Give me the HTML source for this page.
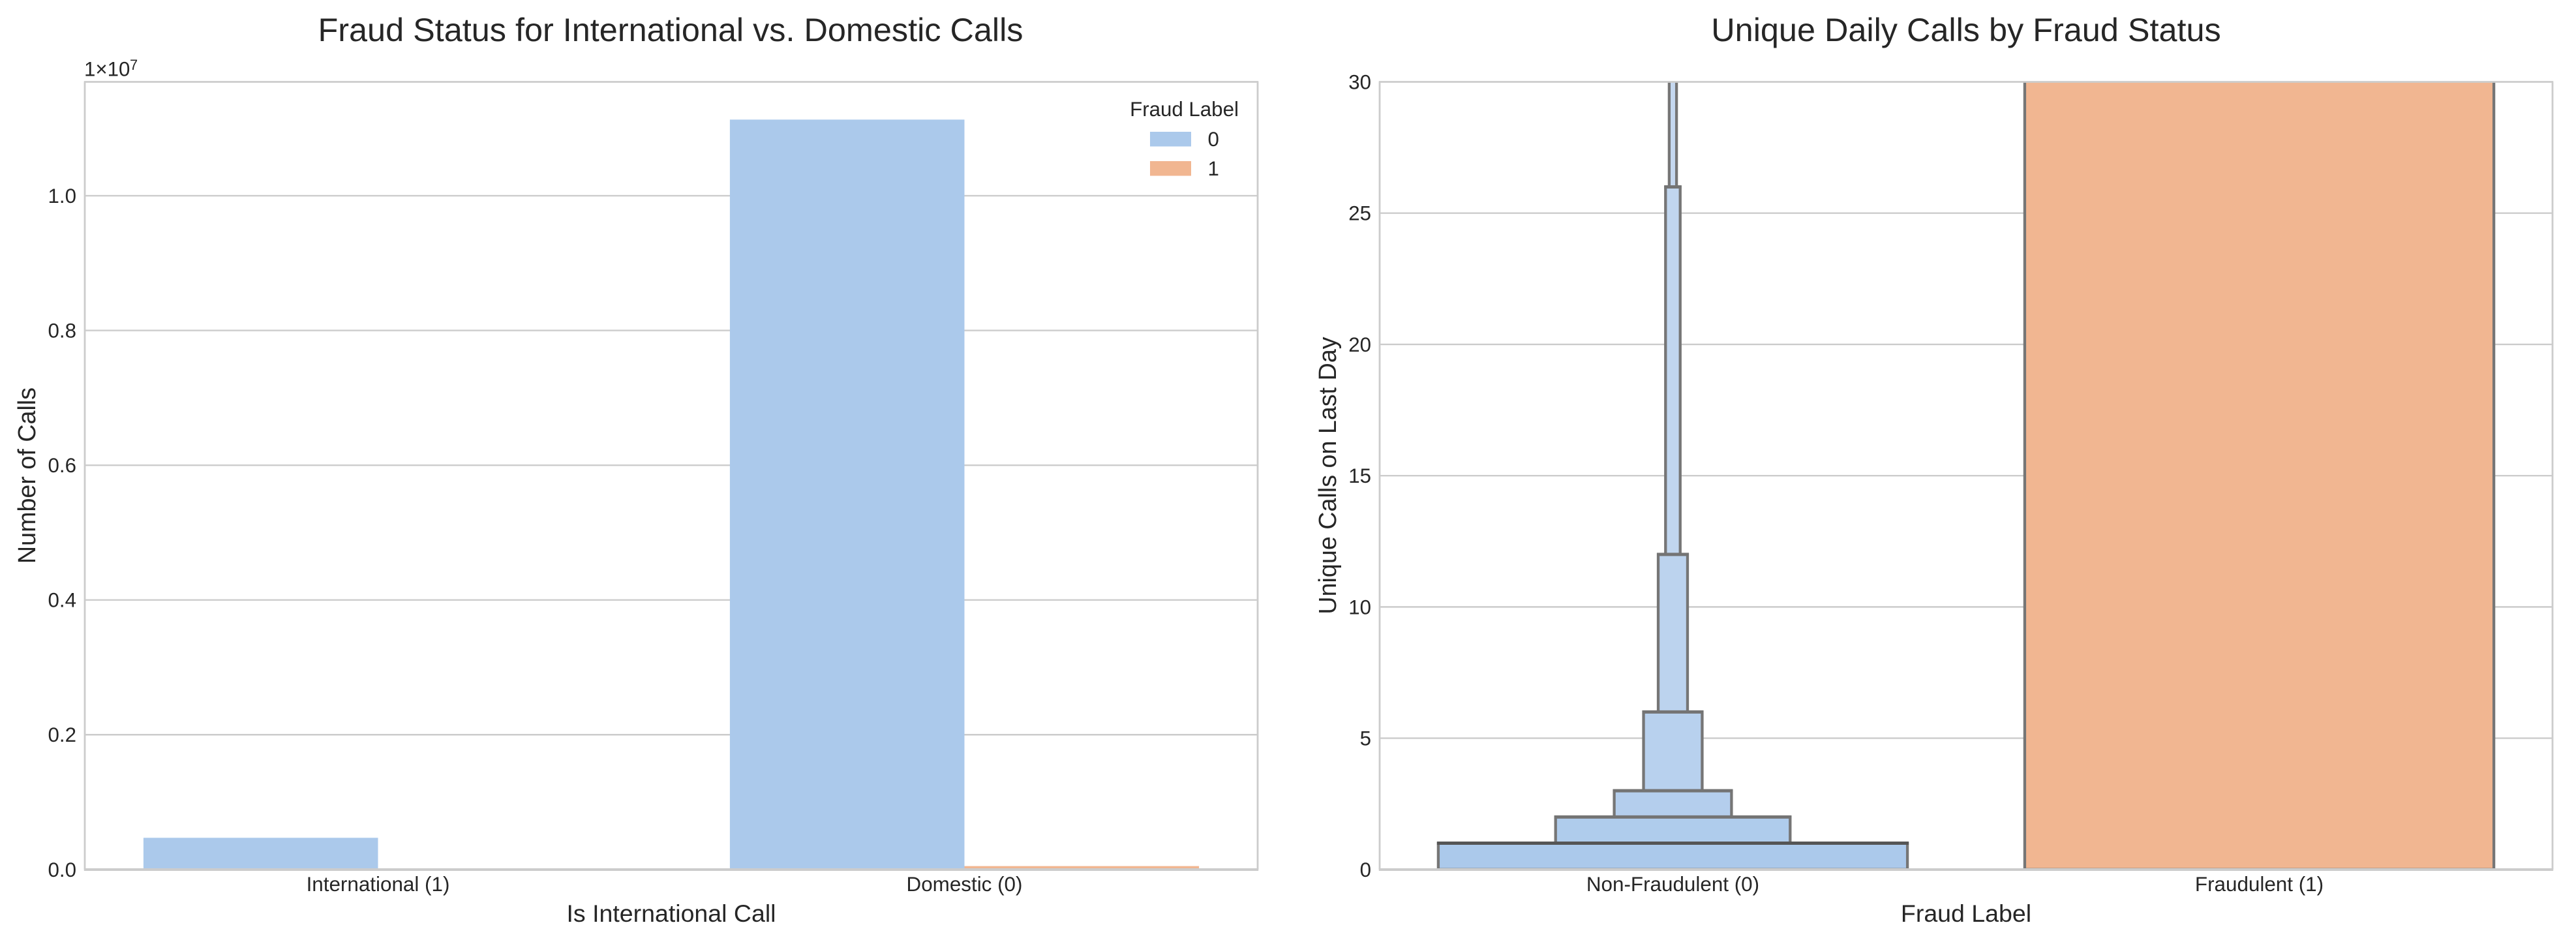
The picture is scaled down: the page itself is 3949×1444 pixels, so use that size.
<!DOCTYPE html>
<html lang="en">
<head>
<meta charset="utf-8">
<title>Fraud Status Charts</title>
<style>
  html, body { margin: 0; padding: 0; background: #ffffff; }
  body { width: 3949px; height: 1444px; overflow: hidden; }
  svg { display: block; }
  text { font-family: "Liberation Sans", sans-serif; fill: #262626; }
</style>
</head>
<body>
<svg id="figure" xmlns="http://www.w3.org/2000/svg" width="3949" height="1444" viewBox="0 0 3949 1444">
  <defs>
    <clipPath id="clip-left"><rect x="130" y="125.5" width="1798" height="1207.3"></rect></clipPath>
    <clipPath id="clip-right"><rect x="2115" y="125.5" width="1798" height="1207.3"></rect></clipPath>
  </defs>
  <g id="left-chart"></g>
  <g id="right-chart"></g>
</svg>
<script>
// Left chart data
const callCategories = ['International (1)', 'Domestic (0)'];
const callsNonFraud = [470000, 11130000];
const callsFraud = [0, 50000];
const callTickValues = [0, 2000000, 4000000, 6000000, 8000000, 10000000];
const callTickLabels = ['0.0', '0.2', '0.4', '0.6', '0.8', '1.0'];
const callAxisMax = 11690000;
const legendEntries = ['0', '1'];

// Right chart data
const fraudCategories = ['Non-Fraudulent (0)', 'Fraudulent (1)'];
const nonFraudLetterValues = [0, 1, 2, 3, 6, 12, 26, 60];
const fraudLetterValues = [0, 60];
const uniqueTickValues = [0, 5, 10, 15, 20, 25, 30];
const uniqueTickLabels = ['0', '5', '10', '15', '20', '25', '30'];
const uniqueAxisMax = 30;

const NS = 'http://www.w3.org/2000/svg';
const PLOT_TOP = 125.5;
const PLOT_BOTTOM = 1332.8;
const PLOT_WIDTH = 1798;
const LEFT_X0 = 130;
const RIGHT_X0 = 2115;
const BLUE = '#abc9eb';
const ORANGE = '#f1b691';
const EDGE = '#767676';
const GRID = '#cccccc';

function mk(tag, attrs, parent, content) {
  const el = document.createElementNS(NS, tag);
  for (const k in attrs) { el.setAttribute(k, attrs[k]); }
  if (content !== undefined) { el.textContent = content; }
  parent.appendChild(el);
  return el;
}

function catX(x0, count, i) {
  const unit = PLOT_WIDTH / count;
  return x0 + unit * (i + 0.5);
}
function callY(v) { return PLOT_BOTTOM - (v / callAxisMax) * (PLOT_BOTTOM - PLOT_TOP); }
function uniqueY(v) { return PLOT_BOTTOM - (v / uniqueAxisMax) * (PLOT_BOTTOM - PLOT_TOP); }
function mixLevel(level, total) {
  const t = total > 1 ? level / (total - 1) : 0;
  const a = [171, 201, 235], b = [197, 216, 240];
  const c = a.map((v, j) => Math.round(v + (b[j] - v) * t));
  return 'rgb(' + c.join(',') + ')';
}

function drawSpines(g, x0) {
  const x1 = x0 + PLOT_WIDTH;
  let s = mk('line', {x1: x0 - 1.2, y1: PLOT_TOP, x2: x1 + 1.2, y2: PLOT_TOP, stroke: GRID, 'stroke-width': 2.8}, g);
  
  
  s = mk('line', {x1: x1, y1: PLOT_TOP, x2: x1, y2: PLOT_BOTTOM, stroke: GRID, 'stroke-width': 2.8}, g);
  
  
  s = mk('line', {x1: x0, y1: PLOT_TOP, x2: x0, y2: PLOT_BOTTOM, stroke: GRID, 'stroke-width': 2.8}, g);
  
  
  s = mk('line', {x1: x0 - 1.2, y1: PLOT_BOTTOM + 0.2, x2: x1 + 1.2, y2: PLOT_BOTTOM + 0.2, stroke: GRID, 'stroke-width': 4}, g);
  
  
}

function drawGrid(g, x0, values, labels, yFn) {
  values.forEach((v, i) => {
    const y = yFn(v);
    if (v !== 0 && y > PLOT_TOP + 2) {
      const ln = mk('line', {x1: x0, y1: y, x2: x0 + PLOT_WIDTH, y2: y, stroke: GRID, 'stroke-width': 2.4}, g);
      
      
    }
    const t = mk('text', {x: x0 - 13, y: y + 11, 'text-anchor': 'end', 'font-size': 31.25}, g, labels[i]);
    
    
  });
}

function drawXLabels(g, x0, cats) {
  cats.forEach((c, i) => {
    const t = mk('text', {x: catX(x0, cats.length, i), y: 1366, 'text-anchor': 'middle', 'font-size': 31.4}, g, c);
    
    
  });
}

/* ---------- Left chart ---------- */
(function () {
  const g = document.getElementById('left-chart');
  drawGrid(g, LEFT_X0, callTickValues, callTickLabels, callY);

  const marks = mk('g', {'clip-path': 'url(#clip-left)'}, g);
  
  
  const unit = PLOT_WIDTH / callCategories.length;
  const barW = unit * 0.4;
  callCategories.forEach((c, i) => {
    const cx = catX(LEFT_X0, callCategories.length, i);
    const h0 = PLOT_BOTTOM - callY(callsNonFraud[i]);
    const b0 = mk('rect', {x: cx - barW, y: callY(callsNonFraud[i]), width: barW, height: h0, fill: BLUE}, marks);
    
    
    const h1 = PLOT_BOTTOM - callY(callsFraud[i]);
    const b1 = mk('rect', {x: cx, y: callY(callsFraud[i]), width: barW, height: h1, fill: ORANGE}, marks);
    
    
  });

  drawSpines(g, LEFT_X0);
  drawXLabels(g, LEFT_X0, callCategories);

  const title = mk('text', {x: 1028, y: 63, 'text-anchor': 'middle', 'font-size': 50.4}, g, 'Fraud Status for International vs. Domestic Calls');
  
  

  const xt = mk('text', {x: 1029, y: 1413, 'text-anchor': 'middle', 'font-size': 37.5}, g, 'Is International Call');
  
  

  const yt = mk('text', {x: 0, y: 0, 'text-anchor': 'middle', 'font-size': 37.7, transform: 'translate(54 729) rotate(-90)'}, g, 'Number of Calls');
  
  

  const off = mk('text', {x: 129, y: 116.5, 'font-size': 31.25}, g, '1×10');
  
  
  const sup = mk('text', {x: 199, y: 107, 'font-size': 21.9}, g, '7');
  
  

  const legend = mk('g', {}, g);
  
  
  const lt = mk('text', {x: 1815.5, y: 178, 'text-anchor': 'middle', 'font-size': 31.25}, legend, 'Fraud Label');
  
  
  const colors = [BLUE, ORANGE];
  legendEntries.forEach((e, i) => {
    const top = 202 + i * 45;
    const sw = mk('rect', {x: 1763, y: top, width: 63, height: 22.5, fill: colors[i]}, legend);
    
    
    const tx = mk('text', {x: 1851.5, y: top + 22, 'font-size': 31.25}, legend, e);
    
    
  });
})();

/* ---------- Right chart ---------- */
(function () {
  const g = document.getElementById('right-chart');
  drawGrid(g, RIGHT_X0, uniqueTickValues, uniqueTickLabels, uniqueY);

  const marks = mk('g', {'clip-path': 'url(#clip-right)'}, g);
  
  
  const unit = PLOT_WIDTH / fraudCategories.length;

  function drawBoxen(values, catIndex, flatColor) {
    const cx = catX(RIGHT_X0, fraudCategories.length, catIndex);
    const levels = values.length - 1;
    for (let i = levels - 1; i >= 0; i--) {
      const w = unit * 0.8 / Math.pow(2, i);
      const top = uniqueY(values[i + 1]);
      const bot = uniqueY(values[i]);
      const box = mk('rect', {
        x: cx - w / 2, y: top, width: w, height: bot - top,
        fill: flatColor || mixLevel(i, levels),
        stroke: EDGE, 'stroke-width': 4.3
      }, marks);
      
      
      if (i < levels - 1) {
        const cap = mk('line', {
          x1: cx - w / 2 - 2, y1: top, x2: cx + w / 2 + 2, y2: top,
          stroke: i === 0 ? '#555555' : '#747474', 'stroke-width': 5
        }, marks);
        
        
      }
    }
  }
  drawBoxen(nonFraudLetterValues, 0, null);
  drawBoxen(fraudLetterValues, 1, ORANGE);

  drawSpines(g, RIGHT_X0);
  drawXLabels(g, RIGHT_X0, fraudCategories);

  const title = mk('text', {x: 3014, y: 63, 'text-anchor': 'middle', 'font-size': 50.4}, g, 'Unique Daily Calls by Fraud Status');
  
  

  const xt = mk('text', {x: 3014, y: 1413, 'text-anchor': 'middle', 'font-size': 37.5}, g, 'Fraud Label');
  
  

  const yt = mk('text', {x: 0, y: 0, 'text-anchor': 'middle', 'font-size': 37.7, transform: 'translate(2048 729) rotate(-90)'}, g, 'Unique Calls on Last Day');
  
  
})();
</script>
</body>
</html>
